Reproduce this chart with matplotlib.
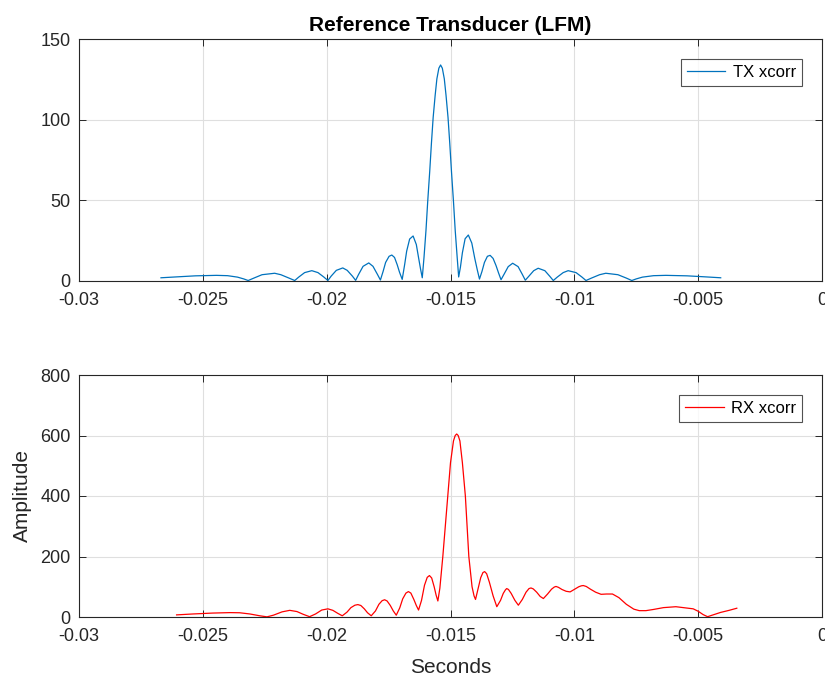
import matplotlib
matplotlib.use("Agg")
import matplotlib.pyplot as plt

# ---- data -------------------------------------------------------------
tx_t = [
    -0.02669, -0.02600, -0.02530, -0.02445, -0.02400, -0.02360, -0.02335, -0.02317,
    -0.02294, -0.02261, -0.02210, -0.02185, -0.02152, -0.02129,
    -0.02113, -0.02089, -0.02060, -0.02035, -0.02011, -0.01995,
    -0.01982, -0.01961, -0.01935, -0.01917, -0.01896, -0.01883,
    -0.01871, -0.01853, -0.01830, -0.01813, -0.01795, -0.01783,
    -0.01772, -0.01762, -0.01748, -0.01737, -0.01726, -0.01715, -0.01706, -0.01695,
    -0.01685, -0.01677, -0.01665, -0.01651, -0.01638, -0.01629, -0.01621, -0.01614,
    -0.01607, -0.01599, -0.01592, -0.01584, -0.01577, -0.01570, -0.01562, -0.01555, -0.01547,
    -0.01540,
    -0.01533, -0.01525, -0.01518, -0.01510, -0.01503, -0.01496, -0.01488, -0.01481, -0.01473,
    -0.01467,
    -0.01460, -0.01452, -0.01441, -0.01428, -0.01414, -0.01402, -0.01392, -0.01383,
    -0.01373, -0.01363, -0.01351, -0.01340, -0.01328, -0.01316, -0.01306, -0.01296,
    -0.01284, -0.01267, -0.01249, -0.01227, -0.01210, -0.01198,
    -0.01184, -0.01164, -0.01146, -0.01119, -0.01099, -0.01085,
    -0.01069, -0.01045, -0.01025, -0.00993, -0.00969, -0.00953,
    -0.00931, -0.00898, -0.00873, -0.00824, -0.00790, -0.00768,
    -0.00750, -0.00725, -0.00680, -0.00630, -0.00545, -0.00475, -0.00409,
]
tx_amp = [
    2.0, 2.6, 3.2, 3.5, 3.3, 2.4, 1.3, 0.3,
    1.8, 3.9, 4.8, 3.9, 1.8, 0.3,
    2.4, 5.2, 6.4, 5.2, 2.4, 0.3,
    3.0, 6.6, 8.1, 6.6, 3.0, 0.4,
    4.1, 9.1, 11.2, 9.1, 4.1, 0.6,
    6.0, 11.5, 15.3, 16.1, 14.6, 10.0, 5.5, 1.0,
    10.3, 18.5, 26.0, 27.9, 22.6, 14.5, 7.5, 2.0,
    14.6, 31.4, 49.3, 67.7, 85.4, 101.4, 115.0, 125.3, 131.9,
    133.9,
    131.9, 125.3, 115.0, 101.4, 85.4, 67.7, 49.3, 31.4, 14.6,
    2.5,
    8.5, 17.5, 26.2, 28.5, 23.5, 14.0, 7.0, 1.2,
    5.9, 11.5, 15.3, 15.9, 14.0, 9.5, 5.0, 0.8,
    4.1, 8.9, 11.0, 8.9, 4.1, 0.5,
    2.9, 6.4, 7.9, 6.4, 2.9, 0.3,
    2.4, 5.2, 6.4, 5.2, 2.4, 0.3,
    1.8, 3.9, 4.8, 3.9, 1.8, 0.3,
    1.3, 2.4, 3.3, 3.5, 3.2, 2.6, 2.0,
]

rx_t = [
    -0.02606, -0.02540, -0.02460, -0.02390, -0.02351, -0.02310, -0.02270, -0.02241,
    -0.02215, -0.02180, -0.02149, -0.02120, -0.02095, -0.02069,
    -0.02045, -0.02020, -0.01995, -0.01975, -0.01955, -0.01937,
    -0.01918, -0.01902, -0.01886, -0.01874, -0.01862, -0.01848, -0.01835, -0.01820,
    -0.01803, -0.01789, -0.01776, -0.01766, -0.01756, -0.01743, -0.01731, -0.01719,
    -0.01705, -0.01693, -0.01680, -0.01670, -0.01660, -0.01648, -0.01638, -0.01629,
    -0.01617, -0.01605, -0.01594, -0.01585, -0.01576, -0.01566, -0.01558, -0.01551,
    -0.01543, -0.01531, -0.01521, -0.01511, -0.01500, -0.01488, -0.01481, -0.01475,
    -0.01469, -0.01462, -0.01452, -0.01440, -0.01433, -0.01426, -0.01413, -0.01405, -0.01399,
    -0.01389, -0.01378, -0.01369, -0.01362, -0.01354, -0.01343, -0.01328, -0.01313,
    -0.01298, -0.01287, -0.01278, -0.01273, -0.01266, -0.01255, -0.01240, -0.01226,
    -0.01210, -0.01195, -0.01183, -0.01175, -0.01166, -0.01152, -0.01138, -0.01125,
    -0.01108, -0.01092, -0.01081, -0.01074, -0.01064, -0.01050, -0.01033, -0.01017,
    -0.00998, -0.00982, -0.00972, -0.00964, -0.00952, -0.00935, -0.00914, -0.00892,
    -0.00870, -0.00846, -0.00820, -0.00790, -0.00760, -0.00738,
    -0.00711, -0.00680, -0.00640, -0.00590, -0.00550, -0.00520,
    -0.00500, -0.00480, -0.00462, -0.00440, -0.00410, -0.00375, -0.00344,
]
rx_amp = [
    7, 10, 13, 14.5, 14, 10, 4, 0.5,
    6, 17, 22, 18, 9, 1,
    10, 23, 27, 22, 12, 4,
    16, 31, 39, 41, 38, 27, 14, 4,
    20, 42, 54, 57, 53, 38, 20, 6,
    30, 60, 79, 84, 79, 58, 38, 23,
    55, 105, 131, 137, 129, 100, 72, 53,
    95, 200, 300, 400, 510, 582, 600, 605,
    600, 582, 510, 400, 300, 200, 100, 70, 58,
    92, 130, 147, 150, 143, 115, 70, 34,
    55, 78, 90, 94, 91, 78, 55, 39,
    58, 82, 94, 96, 93, 82, 68, 61,
    76, 92, 99, 101, 98, 91, 85, 83,
    92, 100, 103, 104, 101, 92, 82, 75,
    76, 76, 64, 42, 26, 21,
    21, 25, 31, 34, 30, 27,
    19, 8, 1, 7, 15, 22, 29,
]

x_ticks = [-0.03, -0.025, -0.02, -0.015, -0.01, -0.005, 0]
x_tick_labels = ["-0.03", "-0.025", "-0.02", "-0.015", "-0.01", "-0.005", "0"]
tx_y_ticks = [0, 50, 100, 150]
rx_y_ticks = [0, 200, 400, 600, 800]

# ---- style ------------------------------------------------------------
plt.rcParams["font.family"] = ["Liberation Sans", "DejaVu Sans"]
ink = "#262626"
W, H = 825, 677
fig = plt.figure(figsize=(W / 100, H / 100), dpi=100)


def style_axes(ax, yticks, ylim):
    ax.set_xlim(-0.03, 0)
    ax.set_ylim(*ylim)
    ax.set_xticks(x_ticks)
    ax.set_xticklabels(x_tick_labels)
    ax.set_yticks(yticks)
    ax.grid(True, color="#dfdfdf", linewidth=0.8)
    ax.set_axisbelow(True)
    ax.tick_params(direction="in", length=5.3, width=0.7, colors=ink,
                   labelsize=13, top=True, right=True)
    ax.tick_params(axis="x", pad=8)
    ax.tick_params(axis="y", pad=6)
    for s in ax.spines.values():
        s.set_color(ink)
        s.set_linewidth(0.8)


left = 79 / W
width = (822 - 79) / W
ax1 = fig.add_axes([left, 1 - 281 / H, width, 242 / H])
ax2 = fig.add_axes([left, 1 - 617 / H, width, 242 / H])

ax1.plot(tx_t, tx_amp, color="#0072BD", linewidth=0.9, label="TX xcorr")
style_axes(ax1, tx_y_ticks, (0, 150))
ax1.set_title("Reference Transducer (LFM)", fontsize=15, fontweight="bold",
              color="black", pad=6)

ax2.plot(rx_t, rx_amp, color="#FF0000", linewidth=0.9, label="RX xcorr")
style_axes(ax2, rx_y_ticks, (0, 800))
ax2.set_xlabel("Seconds", fontsize=15, color=ink, labelpad=9)
ax2.set_ylabel("Amplitude", fontsize=15, color=ink, labelpad=6)

for ax in (ax1, ax2):
    leg = ax.legend(loc="upper right", fontsize=12, frameon=True, fancybox=False,
                    borderaxespad=1.2, handlelength=2.3, handletextpad=0.45,
                    borderpad=0.35)
    leg.get_frame().set_edgecolor("#262626")
    leg.get_frame().set_linewidth(0.8)
    for t in leg.get_texts():
        t.set_color("black")

fig.savefig("out.png", dpi=100, facecolor="white")
